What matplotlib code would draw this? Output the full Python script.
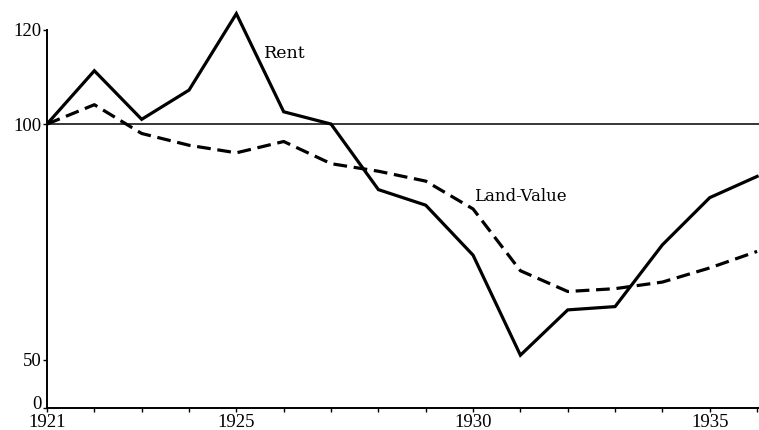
import matplotlib.pyplot as plt
from matplotlib.transforms import ScaledTranslation

years = list(range(1921, 1937))
rent = [100, 111.3, 101.0, 107.2, 123.4, 102.6, 100.0, 86.1, 82.8, 72.2,
        51.0, 60.6, 61.3, 74.4, 84.4, 88.9]
land_value = [100, 104.1, 98.0, 95.5, 93.9, 96.3, 91.6, 90.0, 87.9, 82.0,
              68.9, 64.5, 65.1, 66.5, 69.5, 73.0]

x_labeled = [1921, 1925, 1930, 1935]
y_bottom = 39.8  # broken axis: the bottom is marked "0"
y_ticks = [y_bottom, 50, 100, 120]
y_labels = ["0", "50", "100", "120"]

plt.rcParams["font.family"] = ["Liberation Serif", "DejaVu Serif"]

fig = plt.figure(figsize=(7.59, 4.30), dpi=100)
ax = fig.add_axes([47 / 759, 22 / 430, 712 / 759, 408 / 430])

ax.axhline(100, color="black", lw=1.1)
ax.plot(years, rent, "-", color="black", lw=2.3, solid_joinstyle="miter")
ax.plot(years, land_value, color="black", lw=2.3, dashes=(4.3, 2.1))

ax.text(1925.58, 115.0, "Rent", fontsize=12.5, va="center", family="DejaVu Serif")
ax.text(1930.03, 84.6, "Land-Value", fontsize=12, va="center", family="DejaVu Serif")

ax.set_xlim(1921, 1936.04)
ax.set_ylim(y_bottom, 126.3)
ax.set_xticks(years)
ax.set_xticklabels([str(y) if y in x_labeled else "" for y in years], fontsize=13.5)
ax.set_yticks(y_ticks)
ax.set_yticklabels(y_labels, fontsize=13.5)
ax.tick_params(axis="both", length=3, width=1.0, pad=1, direction="out")

# lift the "0" a little so it clears the 1921 label
lbl0 = ax.get_yticklabels()[0]
lbl0.set_transform(lbl0.get_transform() + ScaledTranslation(0, 4 / 72, fig.dpi_scale_trans))

for s in ["top", "right"]:
    ax.spines[s].set_visible(False)
ax.spines["left"].set_bounds(y_bottom, 120)
ax.spines["left"].set_linewidth(1.4)
ax.spines["bottom"].set_linewidth(1.4)

fig.savefig("out.png", dpi=100)
